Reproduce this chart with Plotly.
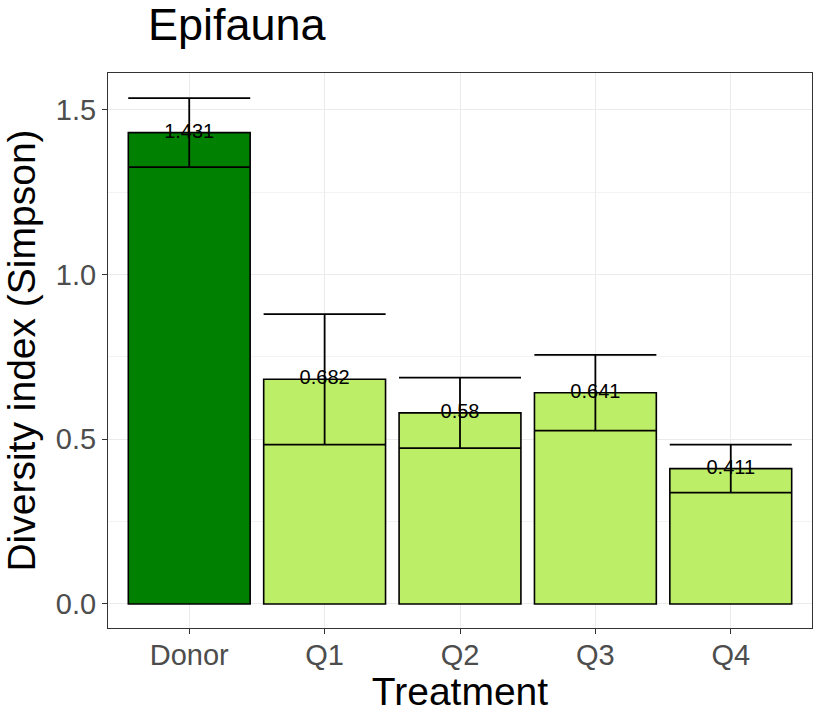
import plotly.graph_objects as go

# Simpson diversity by treatment (mean ± SE)
treatments = ["Donor", "Q1", "Q2", "Q3", "Q4"]
means = [1.431, 0.682, 0.58, 0.641, 0.411]
se = [0.105, 0.198, 0.107, 0.115, 0.073]
labels = ["1.431", "0.682", "0.58", "0.641", "0.411"]
fill_colors = ["#008000", "#BCEE68", "#BCEE68", "#BCEE68", "#BCEE68"]

xpos = list(range(len(treatments)))
FONT = "Liberation Sans, Arial, sans-serif"

fig = go.Figure()

fig.add_trace(go.Bar(
    x=xpos, y=means, width=0.9,
    marker=dict(color=fill_colors, line=dict(color="black", width=1.6)),
    error_y=dict(type="data", array=se, visible=True, color="black",
                 thickness=1.8, width=61),
    showlegend=False, hoverinfo="skip",
))

fig.add_trace(go.Scatter(
    x=xpos, y=means, mode="text", text=labels,
    textposition="middle center",
    textfont=dict(family=FONT, size=20, color="black"),
    showlegend=False, hoverinfo="skip",
))

axis_font = dict(family=FONT, size=29, color="#4D4D4D")
title_font = dict(family=FONT, size=39, color="black")

fig.update_layout(
    width=817, height=713,
    margin=dict(l=108, r=5, t=73, b=85),
    paper_bgcolor="white", plot_bgcolor="white",
    title=dict(text="Epifauna", x=148 / 817, xanchor="left", y=1 - 24 / 713, yanchor="middle",
               font=dict(family=FONT, size=45, color="black")),
    xaxis=dict(
        range=[-0.6, 4.6], tickmode="array", tickvals=xpos, ticktext=treatments,
        tickfont=axis_font, ticks="outside", ticklen=5, tickcolor="#333333", tickwidth=1.2,
        ticklabelstandoff=-4,
        showgrid=True, gridcolor="#EBEBEB", gridwidth=1.2,
        showline=True, linecolor="#333333", linewidth=1.2, mirror=True,
        zeroline=False,
        title=dict(text="Treatment", font=title_font, standoff=4),
    ),
    yaxis=dict(
        range=[-0.073, 1.612], tickmode="array", tickvals=[0, 0.5, 1.0, 1.5],
        ticktext=["0.0", "0.5", "1.0", "1.5"],
        tickfont=axis_font, ticks="outside", ticklen=5, tickcolor="#333333", tickwidth=1.2,
        showgrid=True, gridcolor="#EBEBEB", gridwidth=1.2,
        minor=dict(tickvals=[0.25, 0.75, 1.25], showgrid=True, gridcolor="#F3F3F3", gridwidth=0.8),
        showline=True, linecolor="#333333", linewidth=1.2, mirror=True,
        zeroline=False,
        title=dict(text="Diversity index (Simpson)", font=title_font, standoff=8),
    ),
)

fig.write_html("out.html")
